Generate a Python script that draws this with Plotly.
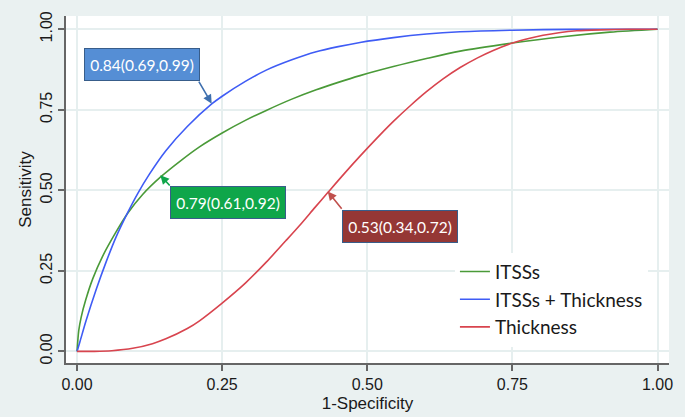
import plotly.graph_objects as go

# ---- data ----
itss_x = [0, 0.003, 0.007, 0.015, 0.027, 0.044, 0.067, 0.087, 0.113, 0.145, 0.18, 0.211, 0.25,
          0.29, 0.326, 0.37, 0.412, 0.45, 0.4875, 0.545, 0.602, 0.66, 0.75, 0.832, 0.918, 1]
itss_y = [0, 0.065, 0.105, 0.16, 0.225, 0.295, 0.37, 0.428, 0.487, 0.543, 0.594, 0.635, 0.678,
          0.717, 0.748, 0.783, 0.812, 0.835, 0.856, 0.884, 0.909, 0.932, 0.957, 0.976, 0.991, 1]

comb_x = [0, 0.005, 0.0155, 0.033, 0.05, 0.067, 0.087, 0.1045, 0.125, 0.153, 0.19, 0.232, 0.25,
          0.29, 0.326, 0.37, 0.412, 0.45, 0.4875, 0.545, 0.602, 0.66, 0.75, 0.85, 1]
comb_y = [0, 0.03, 0.095, 0.192, 0.277, 0.354, 0.43, 0.49, 0.551, 0.623, 0.698, 0.768, 0.792,
          0.838, 0.873, 0.905, 0.93, 0.946, 0.959, 0.974, 0.985, 0.992, 0.997, 0.9995, 1]

thick_x = [0, 0.03, 0.06, 0.096, 0.13, 0.153, 0.19, 0.211, 0.25, 0.29, 0.326, 0.36, 0.383, 0.41,
           0.432, 0.46, 0.4875, 0.515, 0.545, 0.575, 0.602, 0.63, 0.66, 0.69, 0.717, 0.75, 0.78,
           0.803, 0.83, 0.861, 0.9, 0.95, 1]
thick_y = [0, 0.0002, 0.0022, 0.0096, 0.024, 0.039, 0.071, 0.095, 0.15, 0.212, 0.277, 0.344, 0.39,
           0.447, 0.493, 0.551, 0.606, 0.659, 0.714, 0.764, 0.806, 0.845, 0.881, 0.911, 0.934,
           0.957, 0.972, 0.981, 0.989, 0.995, 0.998, 0.9999, 1]

series_names = ["ITSSs", "ITSSs + Thickness", "Thickness"]
series_colors = ["#4a9a38", "#3f5cf5", "#d8444e"]

tick_vals = [0, 0.25, 0.5, 0.75, 1]
tick_text = ["0.00", "0.25", "0.50", "0.75", "1.00"]

auc_labels = ["0.79(0.61,0.92)", "0.84(0.69,0.99)", "0.53(0.34,0.72)"]
# label box centers, arrow tails, arrow heads (data coords)
box_centers = [(0.260, 0.462), (0.112, 0.890), (0.557, 0.389)]
arrow_tails = [(0.162, 0.510), (0.2084, 0.842), (0.458, 0.438)]
arrow_heads = [(0.1435, 0.547), (0.232, 0.769), (0.4319, 0.4964)]
box_fills = ["#0fa64a", "#558ed5", "#953735"]
arrow_colors = ["#0fa64a", "#3e6fae", "#c0504d"]

fig = go.Figure()
for xs, ys, name, col in zip([itss_x, comb_x, thick_x], [itss_y, comb_y, thick_y],
                             series_names, series_colors):
    fig.add_trace(go.Scatter(x=xs, y=ys, mode="lines", name=name,
                             line=dict(color=col, width=1.6, shape="spline", smoothing=0.8)))

annotations = []
for lab, c, t, h, fc, ac in zip(auc_labels, box_centers, arrow_tails, arrow_heads,
                                box_fills, arrow_colors):
    annotations.append(dict(x=h[0], y=h[1], ax=t[0], ay=t[1], xref="x", yref="y",
                            axref="x", ayref="y", text="", showarrow=True,
                            arrowhead=2, arrowsize=1.1, arrowwidth=1.6, arrowcolor=ac))
    annotations.append(dict(x=c[0], y=c[1], xref="x", yref="y", text=lab, showarrow=False,
                            font=dict(family="Lato", size=15.5, color="white"),
                            bgcolor=fc, bordercolor="#385d8a", borderwidth=1,
                            width=114, height=31, borderpad=0))

fig.update_layout(
    width=685, height=417,
    margin=dict(l=66, r=16, t=16, b=54, autoexpand=False),
    paper_bgcolor="#eaf1f1", plot_bgcolor="white",
    font=dict(family="Liberation Sans, Arial", color="#1a1a1a"),
    showlegend=True,
    legend=dict(x=0.645, y=0.318, xanchor="left", yanchor="top",
                bgcolor="white", borderwidth=0,
                font=dict(family="Lato", size=19, color="#1a1a1a"),
                tracegroupgap=0),
    annotations=annotations,
    xaxis=dict(range=[-0.019, 1.0198], tickvals=tick_vals, ticktext=tick_text,
               automargin=False,
               showline=True, linecolor="#666666", linewidth=1.5,
               ticks="outside", ticklen=6, tickcolor="#666666", tickwidth=1.5,
               showgrid=True, gridcolor="#e6efef", gridwidth=1.5, zeroline=False,
               tickfont=dict(size=16),
               title=dict(text="1-Specificity", font=dict(size=17), standoff=5)),
    yaxis=dict(range=[-0.036, 1.041], tickvals=tick_vals, ticktext=tick_text,
               automargin=False,
               showline=True, linecolor="#666666", linewidth=1.5,
               ticks="outside", ticklen=6, tickcolor="#666666", tickwidth=1.5,
               showgrid=True, gridcolor="#e6efef", gridwidth=1.5, zeroline=False,
               tickangle=-90, tickfont=dict(size=16),
               title=dict(text="Sensitivity", font=dict(size=17), standoff=2)),
)

fig.write_html("out.html", config={"displayModeBar": False},
               post_script="document.body.style.margin='0px';")
